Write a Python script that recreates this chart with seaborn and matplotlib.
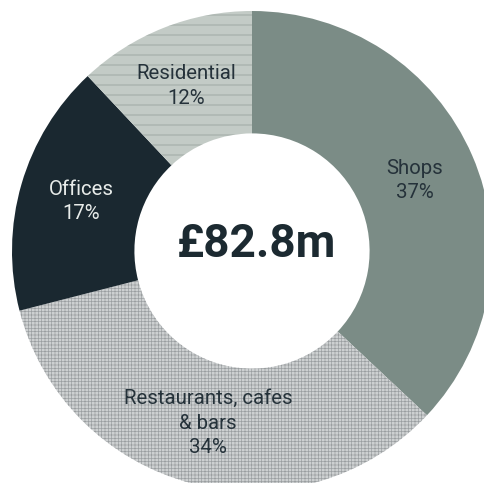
import matplotlib
matplotlib.use("Agg")
import matplotlib.pyplot as plt
import numpy as np
import seaborn as sns

# Floor-space value split by use
categories = ["Shops", "Restaurants, cafes\n& bars", "Offices", "Residential"]
shares = [37, 34, 17, 12]
total_label = "£82.8m"

face_colors = ["#7b8c86", "#cdd0d1", "#1a2830", "#c3cbc6"]
hatch_colors = ["#7b8c86", "#9a9ea0", "#1a2830", "#8d9a95"]
hatches = [None, "+++", None, "-"]
text_colors = ["#25323a", "#25323a", "#e8ecea", "#25323a"]

sns.set_theme(style="white")
plt.rcParams["font.family"] = ["Roboto", "DejaVu Sans"]
plt.rcParams["hatch.linewidth"] = 0.8

DPI = 60
W, H = 484, 483
fig = plt.figure(figsize=(W / DPI, H / DPI), dpi=DPI)
ax = fig.add_axes([0, 0, 1, 1])

wedges, _ = ax.pie(
    shares,
    startangle=90,
    counterclock=False,
    radius=1.0,
    wedgeprops=dict(width=0.51, linewidth=0),
)
for w, fc, hc, h in zip(wedges, face_colors, hatch_colors, hatches):
    w.set_facecolor(fc)
    w.set_edgecolor(hc)
    w.set_linewidth(0)
    if h:
        w.set_hatch(h)

# ring centre sits at (252, 251) px with a 240 px outer radius
cx, cy, R = 252, 251, 240
ax.set_aspect("auto")
ax.set_xlim(-cx / R, (W - cx) / R)
ax.set_ylim(-(H - cy) / R, cy / R)
ax.axis("off")

for w, cat, share, tc in zip(wedges, categories, shares, text_colors):
    mid = np.deg2rad((w.theta1 + w.theta2) / 2)
    ax.text(0.74 * np.cos(mid), 0.74 * np.sin(mid), f"{cat}\n{share}%",
            ha="center", va="center", fontsize=24.5, color=tc,
            linespacing=1.38)

ax.text(0.02, 0.03, total_label, ha="center", va="center",
        fontsize=55, fontweight="bold", color="#1c2a31")

fig.savefig("out.png", dpi=DPI, facecolor="white")
